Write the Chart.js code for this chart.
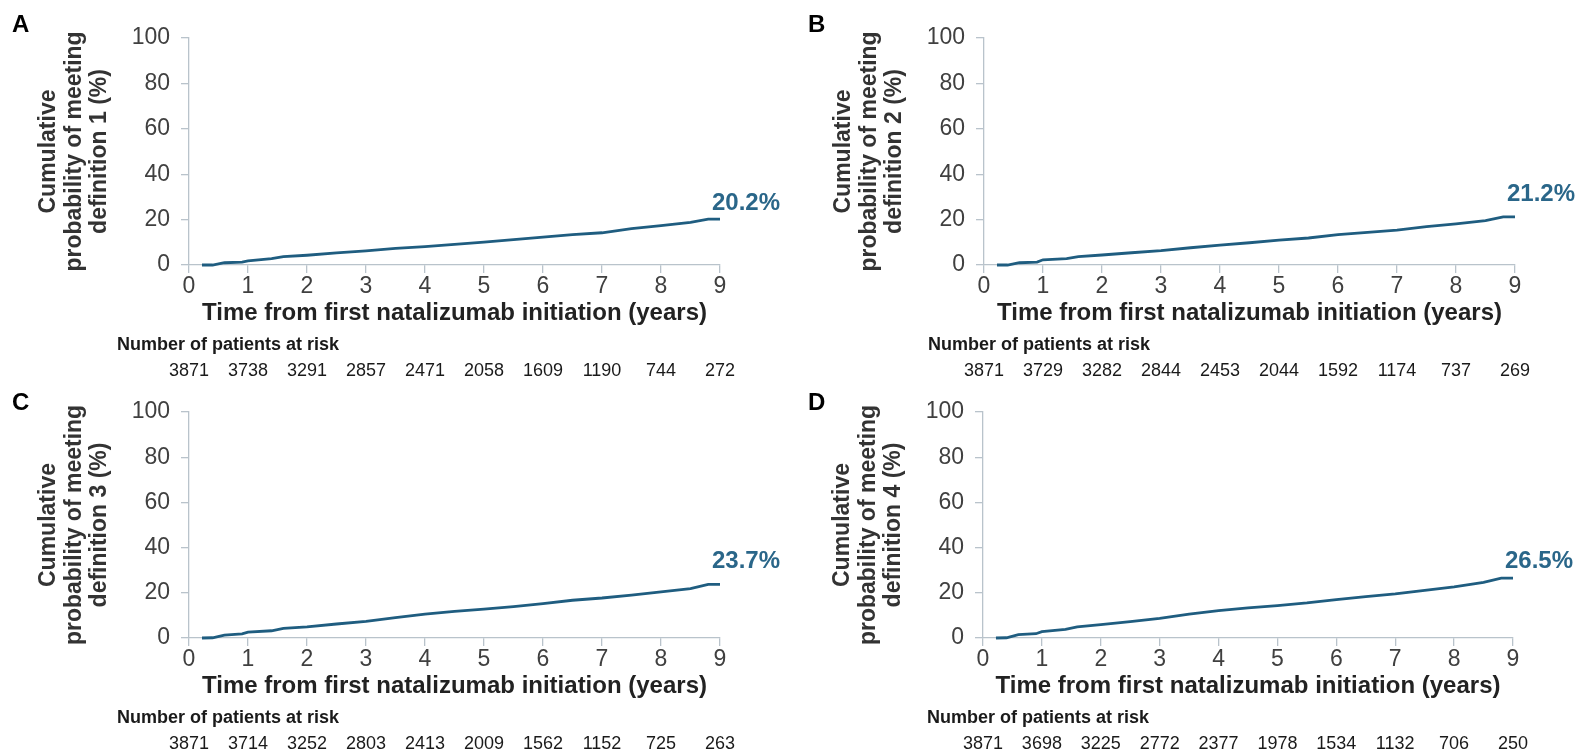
<!DOCTYPE html>
<html>
<head>
<meta charset="utf-8">
<script src="https://cdn.jsdelivr.net/npm/chart.js@4.4.1/dist/chart.umd.min.js"></script>
<style>
  body { margin: 0; background: #fff; width: 1576px; height: 754px; overflow: hidden; position: relative; }
  .panel { position: absolute; }
</style>
</head>
<body>
<div class="panel" style="left:0;top:0;width:790px;height:377px"><canvas id="cA"></canvas></div>
<div class="panel" style="left:790px;top:0;width:786px;height:377px"><canvas id="cB"></canvas></div>
<div class="panel" style="left:0;top:377px;width:790px;height:377px"><canvas id="cC"></canvas></div>
<div class="panel" style="left:790px;top:377px;width:786px;height:377px"><canvas id="cD"></canvas></div>
<script>
// data (years, cumulative %)
const years = [0.22, 0.4, 0.6, 0.9, 1.0, 1.4, 1.6, 2.0, 2.5, 3.0, 3.5, 4.0, 4.5, 5.0, 5.5, 6.0, 6.5, 7.0, 7.5, 8.0, 8.5, 8.8, 9.0];
const def1 = [0, 0, 1.0, 1.3, 1.8, 2.8, 3.7, 4.3, 5.3, 6.2, 7.3, 8.1, 9.1, 10.1, 11.2, 12.3, 13.4, 14.2, 16.0, 17.3, 18.8, 20.2, 20.2];
const def2 = [0, 0, 1.0, 1.3, 2.3, 2.8, 3.7, 4.4, 5.4, 6.3, 7.6, 8.8, 9.8, 11.0, 11.9, 13.4, 14.4, 15.4, 16.9, 18.1, 19.5, 21.2, 21.2];
const def3 = [0, 0.1, 1.3, 1.8, 2.6, 3.2, 4.3, 4.9, 6.2, 7.4, 9.0, 10.6, 11.8, 12.8, 13.9, 15.2, 16.7, 17.7, 19.0, 20.4, 21.8, 23.7, 23.7];
const def4 = [0, 0.1, 1.5, 1.9, 2.8, 3.8, 4.9, 5.9, 7.2, 8.7, 10.6, 12.1, 13.3, 14.3, 15.5, 17.0, 18.3, 19.5, 21.1, 22.6, 24.6, 26.5, 26.5];

// number at risk
const riskYears = [0, 1, 2, 3, 4, 5, 6, 7, 8, 9];
const risk1 = [3871, 3738, 3291, 2857, 2471, 2058, 1609, 1190, 744, 272];
const risk2 = [3871, 3729, 3282, 2844, 2453, 2044, 1592, 1174, 737, 269];
const risk3 = [3871, 3714, 3252, 2803, 2413, 2009, 1562, 1152, 725, 263];
const risk4 = [3871, 3698, 3225, 2772, 2377, 1978, 1534, 1132, 706, 250];

const finalLabels = ['20.2%', '21.2%', '23.7%', '26.5%'];
const letters = ['A', 'B', 'C', 'D'];

// layout of each panel (canvas-local pixels)
const panels = [
  { id: 'cA', data: def1, risk: risk1, w: 790, h: 377, left: 189, right: 720, top: 38, bottom: 265, letterX: 12, letterY: 25, numLeft: 72, labelDy: -16 },
  { id: 'cB', data: def2, risk: risk2, w: 786, h: 377, left: 194, right: 725, top: 38, bottom: 265, letterX: 18, letterY: 25, numLeft: 56, labelDy: -23 },
  { id: 'cC', data: def3, risk: risk3, w: 790, h: 377, left: 189, right: 720, top: 35, bottom: 261, letterX: 12, letterY: 26, numLeft: 72, labelDy: -23 },
  { id: 'cD', data: def4, risk: risk4, w: 786, h: 377, left: 193, right: 723, top: 35, bottom: 261, letterX: 18, letterY: 26, numLeft: 56, labelDy: -17 }
];

const FONT = '"Liberation Sans", Arial, sans-serif';
const lineColor = '#1f5d80';
const labelColor = '#2a6689';
const axisColor = '#b9c3cb';
Chart.defaults.font.family = FONT;

const extras = {
  id: 'extras',
  afterDraw(chart, args, o) {
    const ctx = chart.ctx;
    const xs = chart.scales.x, ys = chart.scales.y;
    const p = o.panel;
    ctx.save();
    // panel letter
    ctx.fillStyle = '#000';
    ctx.font = 'bold 24px ' + FONT;
    ctx.textAlign = 'left';
    ctx.textBaseline = 'middle';
    ctx.fillText(o.letter, p.letterX, p.letterY);
    // value at end of curve
    const last = p.data[p.data.length - 1];
    ctx.fillStyle = labelColor;
    ctx.fillText(o.label, xs.getPixelForValue(9) - 8, ys.getPixelForValue(last) + p.labelDy);
    // risk table
    ctx.fillStyle = '#1a1a1a';
    ctx.font = 'bold 18px ' + FONT;
    ctx.fillText('Number of patients at risk', p.left - p.numLeft, p.bottom + 80);
    ctx.font = '18px ' + FONT;
    ctx.textAlign = 'center';
    riskYears.forEach((t, i) => {
      ctx.fillText(String(p.risk[i]), xs.getPixelForValue(t), p.bottom + 106);
    });
    ctx.restore();
  }
};

panels.forEach((p, k) => {
  const xHeight = p.h - p.bottom;
  new Chart(document.getElementById(p.id), {
    type: 'line',
    data: {
      datasets: [{
        data: years.map((t, i) => ({ x: t, y: p.data[i] })),
        borderColor: lineColor,
        borderWidth: 2.8,
        pointRadius: 0,
        tension: 0,
        fill: false,
        clip: 4
      }]
    },
    options: {
      responsive: true,
      maintainAspectRatio: false,
      animation: false,
      layout: { padding: { left: 0, top: p.top, right: p.w - p.right, bottom: 0 } },
      plugins: {
        legend: { display: false },
        tooltip: { enabled: false },
        extras: { panel: p, letter: letters[k], label: finalLabels[k] }
      },
      scales: {
        x: {
          type: 'linear',
          min: 0,
          max: 9,
          afterFit: s => { s.height = xHeight; },
          ticks: { stepSize: 1, padding: 0, color: '#404040', font: { size: 23, lineHeight: 1.2 } },
          grid: { drawOnChartArea: false, drawTicks: true, tickLength: 8, color: axisColor, lineWidth: 1.3 },
          border: { color: axisColor, width: 1.3 },
          title: {
            display: true,
            text: 'Time from first natalizumab initiation (years)',
            color: '#222',
            font: { size: 24, weight: 'bold', lineHeight: 1.2 },
            padding: { top: 0, bottom: xHeight - 48 - 14.4 }
          }
        },
        y: {
          min: 0,
          max: 100,
          afterFit: s => { s.width = p.left; },
          ticks: { stepSize: 20, padding: 11, color: '#404040', font: { size: 23 } },
          grid: { drawOnChartArea: false, drawTicks: true, tickLength: 8, color: axisColor, lineWidth: 1.3 },
          border: { color: axisColor, width: 1.3 },
          title: {
            display: true,
            text: ['Cumulative', 'probability of meeting', 'definition ' + (k + 1) + ' (%)'],
            color: '#333',
            font: { size: 23, weight: 'bold', lineHeight: 1.1 },
            padding: { top: p.left - 140 - 12.65, bottom: 0 }
          }
        }
      }
    },
    plugins: [extras]
  });
});
</script>
</body>
</html>
